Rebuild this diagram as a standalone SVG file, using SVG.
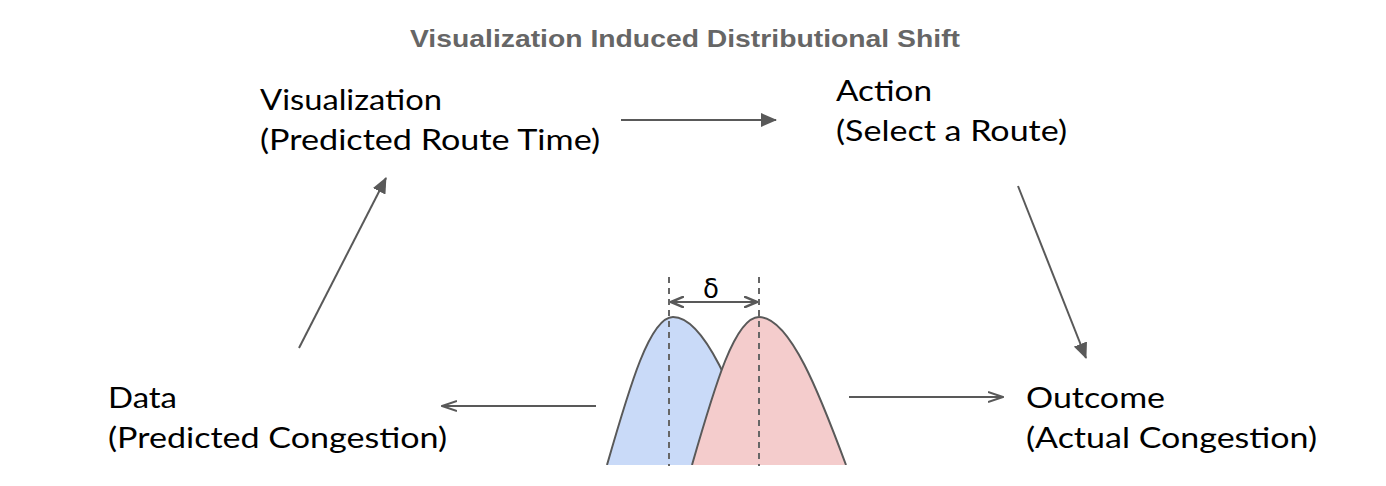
<svg xmlns="http://www.w3.org/2000/svg" width="1386" height="486" viewBox="0 0 1386 486">
<defs>
<style>
.lbl{font-family:Lato,"Noto Sans",sans-serif;font-size:29px;fill:#000}
.title{font-family:"Liberation Sans",Arial,sans-serif;font-size:24px;font-weight:bold;fill:#666}
.conn{stroke:#595959;stroke-width:2;fill:none}
.dash{stroke:#666;stroke-width:2;stroke-dasharray:6,5;fill:none}
.curve{stroke:#595959;stroke-width:2}
</style>
<marker id="tri2" markerWidth="16" markerHeight="14" refX="15" refY="7" orient="auto" markerUnits="userSpaceOnUse" viewBox="0 0 16 14">
<path d="M0,0 L16,7 L0,14 Z" fill="#595959"/>
</marker>
<marker id="chev" markerWidth="16" markerHeight="12" refX="15" refY="6" orient="auto" markerUnits="userSpaceOnUse" viewBox="0 0 16 12">
<path d="M0,1 L15,6 L0,11" fill="none" stroke="#595959" stroke-width="2"/>
</marker>
<marker id="dbl" markerWidth="14" markerHeight="12" refX="13" refY="6" orient="auto-start-reverse" markerUnits="userSpaceOnUse" viewBox="0 0 14 12">
<path d="M0,0.5 L13,6 L0,11.5" fill="none" stroke="#595959" stroke-width="2.5"/>
</marker>
</defs>
<rect width="1386" height="486" fill="#fff"/>
<text class="title" x="410" y="47" textLength="550" lengthAdjust="spacingAndGlyphs">Visualization Induced Distributional Shift</text>

<g id="node-visualization">
<text class="lbl" x="260" y="110" textLength="182" lengthAdjust="spacingAndGlyphs">Visualization</text>
<text class="lbl" x="260" y="150" textLength="340" lengthAdjust="spacingAndGlyphs">(Predicted Route Time)</text>
</g>
<g id="node-action">
<text class="lbl" x="836" y="101" textLength="96" lengthAdjust="spacingAndGlyphs">Action</text>
<text class="lbl" x="836" y="141" textLength="231" lengthAdjust="spacingAndGlyphs">(Select a Route)</text>
</g>
<g id="node-data">
<text class="lbl" x="108" y="408" textLength="69" lengthAdjust="spacingAndGlyphs">Data</text>
<text class="lbl" x="108" y="448" textLength="339" lengthAdjust="spacingAndGlyphs">(Predicted Congestion)</text>
</g>
<g id="node-outcome">
<text class="lbl" x="1026" y="408" textLength="139" lengthAdjust="spacingAndGlyphs">Outcome</text>
<text class="lbl" x="1026" y="448" textLength="291" lengthAdjust="spacingAndGlyphs">(Actual Congestion)</text>
</g>

<g id="node-distributions">
<path class="curve" d="M607,465 C630,385 650,317 673,317 C705,317 735,395 760,465" fill="#c9daf8"/>
<path class="curve" d="M692,465 C715,385 735,317 759,317 C790,317 820,395 846,465" fill="#f4cccc"/>
<rect x="600" y="465" width="254" height="6" fill="#fff"/>
<line class="dash" x1="669" y1="277" x2="669" y2="466"/>
<line class="dash" x1="759" y1="277" x2="759" y2="466"/>
<line class="conn" x1="671" y1="302" x2="757" y2="302" marker-start="url(#dbl)" marker-end="url(#dbl)"/>
<text x="711" y="298" text-anchor="middle" style="font-family:'DejaVu Sans',sans-serif;font-size:26px;fill:#000">δ</text>
</g>

<g id="connectors">
<line class="conn" x1="621" y1="120" x2="776" y2="120" marker-end="url(#tri2)"/>
<line class="conn" x1="299" y1="348" x2="386" y2="178" marker-end="url(#tri2)"/>
<line class="conn" x1="1018" y1="186" x2="1086" y2="358" marker-end="url(#tri2)"/>
<line class="conn" x1="596" y1="406" x2="442" y2="406" marker-end="url(#chev)"/>
<line class="conn" x1="849" y1="397" x2="1003" y2="397" marker-end="url(#chev)"/>
</g>
</svg>
